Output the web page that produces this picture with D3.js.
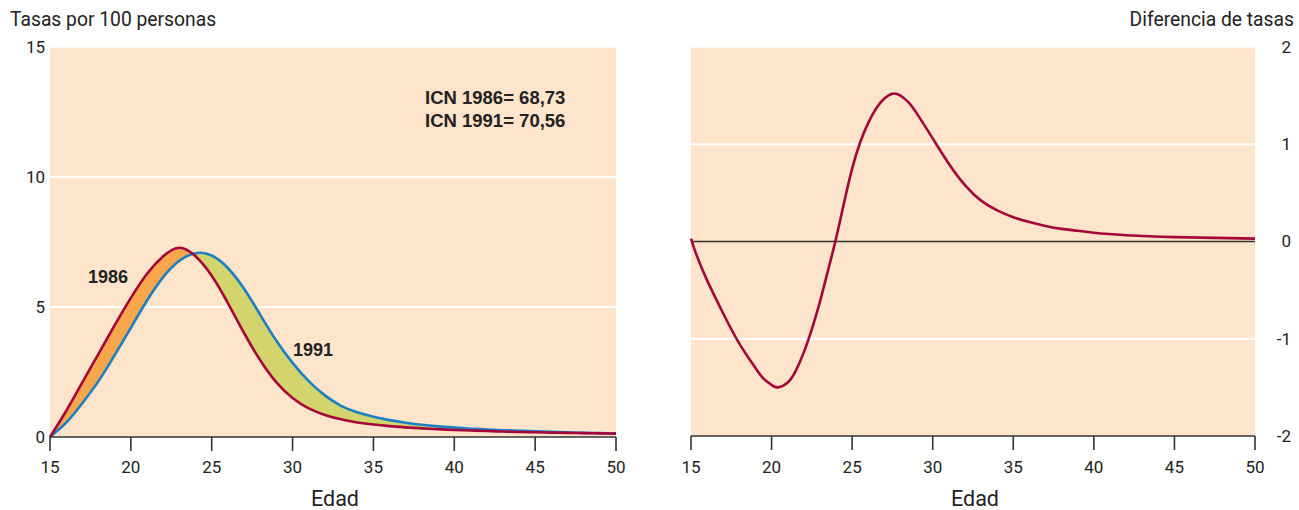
<!DOCTYPE html>
<html>
<head>
<meta charset="utf-8">
<script src="https://cdn.jsdelivr.net/npm/d3@7"></script>
<style>
  body { margin: 0; background: #fff; }
  svg { display: block; font-family: Roboto, 'Liberation Sans', sans-serif; }
</style>
</head>
<body>
<svg id="chart" width="1299" height="510"></svg>
<script>
// ages 15..50
const ages = [15, 16, 17, 18, 19, 20, 21, 22, 23, 24, 25, 26, 27, 28, 29, 30, 31, 32,
  33, 34, 35, 36, 37, 38, 39, 40, 41, 42, 43, 44, 45, 46, 47, 48, 49, 50]
const rate1986 = [0, 1.0, 2.1, 3.2, 4.3, 5.35, 6.28, 6.95, 7.28, 6.95, 6.2, 5.15, 4.0, 2.95,
  2.1, 1.5, 1.1, 0.85, 0.68, 0.56, 0.48, 0.42, 0.37, 0.33, 0.3, 0.27, 0.25, 0.23, 0.21,
  0.19, 0.18, 0.17, 0.16, 0.15, 0.14, 0.13]
const rate1991 = [0, 0.55, 1.3, 2.15, 3.15, 4.2, 5.25, 6.15, 6.78, 7.07, 6.98, 6.5, 5.7, 4.7,
  3.7, 2.85, 2.15, 1.6, 1.2, 0.95, 0.78, 0.65, 0.55, 0.47, 0.41, 0.36, 0.32, 0.29, 0.26,
  0.24, 0.22, 0.2, 0.18, 0.16, 0.15, 0.14]

const diffAges = [15, 15.3, 16, 17, 18, 19, 19.5, 20, 20.4, 21, 21.5, 22, 22.5, 23, 23.5, 24,
  24.5, 25, 25.5, 26, 26.5, 27, 27.5, 28, 28.5, 29, 30, 31, 32, 33, 34, 35, 36, 37, 38, 39,
  40, 42, 45, 50]
const diffValues = [0.03, -0.12, -0.4, -0.74, -1.05, -1.3, -1.41, -1.475, -1.5, -1.45, -1.33,
  -1.14, -0.9, -0.62, -0.3, 0.03, 0.4, 0.75, 1.02, 1.22, 1.37, 1.47, 1.52, 1.5, 1.43, 1.32,
  1.06, 0.8, 0.58, 0.42, 0.32, 0.25, 0.2, 0.16, 0.13, 0.11, 0.09, 0.065, 0.045, 0.03]

const xTicks = [15, 20, 25, 30, 35, 40, 45, 50]
const leftTicks = [0, 5, 10, 15]
const rightTicks = [-2, -1, 0, 1, 2]
const icnLabels = ['ICN 1986= 68,73', 'ICN 1991= 70,56']

const C = {
  bg: '#fde4ca',
  red: '#a50639',
  blue: '#1b80c3',
  orange: '#f8a64b',
  green: '#d4d46c',
  axis: '#333',
  text: '#222'
}

const svg = d3.select('#chart')
const curve = d3.curveNatural

// ---------- left panel ----------
const xL = d3.scaleLinear().domain([15, 50]).range([50, 616])
const yL = d3.scaleLinear().domain([0, 15]).range([437, 47])

const left = svg.append('g')
left.append('rect')
  .attr('x', xL(15)).attr('y', yL(15) - 1)
  .attr('width', xL(50) - xL(15)).attr('height', yL(0) - yL(15) + 1)
  .attr('fill', C.bg)

left.selectAll('.grid').data(leftTicks.filter(d => d > 0)).join('line')
  .attr('x1', xL(15)).attr('x2', xL(50))
  .attr('y1', d => yL(d)).attr('y2', d => yL(d))
  .attr('stroke', '#fff').attr('stroke-width', d => d === 15 ? 2.5 : 2)
  .attr('stroke-opacity', d => d === 15 ? 0.75 : 1)

const rows = ages.map((a, i) => ({ a, r: rate1986[i], b: rate1991[i] }))

const between = d3.area().curve(curve)
  .x(d => xL(d.a)).y0(d => yL(d.b)).y1(d => yL(d.r))

const defs = svg.append('defs')
defs.append('clipPath').attr('id', 'aboveBlue').append('path')
  .attr('d', d3.area().curve(curve).x(d => xL(d.a)).y0(yL(15)).y1(d => yL(d.b))(rows))
defs.append('clipPath').attr('id', 'belowBlue').append('path')
  .attr('d', d3.area().curve(curve).x(d => xL(d.a)).y0(yL(0)).y1(d => yL(d.b))(rows))

left.append('path').attr('d', between(rows)).attr('fill', C.orange)
  .attr('clip-path', 'url(#aboveBlue)')
left.append('path').attr('d', between(rows)).attr('fill', C.green)
  .attr('clip-path', 'url(#belowBlue)')

const lineL = key => d3.line().curve(curve).x(d => xL(d.a)).y(d => yL(d[key]))
left.append('path').attr('d', lineL('b')(rows))
  .attr('fill', 'none').attr('stroke', C.blue).attr('stroke-width', 2.6)
left.append('path').attr('d', lineL('r')(rows))
  .attr('fill', 'none').attr('stroke', C.red).attr('stroke-width', 2.6)

// bottom axis
function xAxis(g, x, y0) {
  g.append('line').attr('x1', x(15)).attr('x2', x(50)).attr('y1', y0).attr('y2', y0)
    .attr('stroke', C.axis).attr('stroke-width', 1.6)
  g.selectAll('.tk').data(xTicks).join('line')
    .attr('x1', d => x(d)).attr('x2', d => x(d)).attr('y1', y0).attr('y2', y0 + 14)
    .attr('stroke', C.axis).attr('stroke-width', 1.6)
  g.selectAll('.tl').data(xTicks).join('text')
    .attr('x', d => x(d)).attr('y', 473).attr('text-anchor', 'middle')
    .attr('font-size', 17).attr('fill', C.text).text(d => d)
  g.append('text').attr('x', (x(15) + x(50)) / 2 + 2).attr('y', 506)
    .attr('text-anchor', 'middle').attr('font-size', 21.5).attr('fill', C.text).text('Edad')
}
xAxis(left, xL, yL(0))

left.selectAll('.yl').data(leftTicks).join('text')
  .attr('x', 45).attr('y', d => yL(d)).attr('dy', '0.35em')
  .attr('text-anchor', 'end').attr('font-size', 17).attr('fill', C.text).text(d => d)

left.append('text').attr('x', 10).attr('y', 26).attr('font-size', 19.3)
  .attr('fill', C.text).text('Tasas por 100 personas')

const bold = "'Liberation Sans', Arial, sans-serif"
left.selectAll('.icn').data(icnLabels).join('text')
  .attr('x', 425).attr('y', (d, i) => 104 + i * 23)
  .attr('font-family', bold).attr('font-weight', 'bold').attr('font-size', 18.5)
  .attr('fill', C.text).text(d => d)

left.append('text').attr('x', 88).attr('y', 283)
  .attr('font-family', bold).attr('font-weight', 'bold').attr('font-size', 18)
  .attr('fill', C.text).text('1986')
left.append('text').attr('x', 293).attr('y', 356)
  .attr('font-family', bold).attr('font-weight', 'bold').attr('font-size', 18)
  .attr('fill', C.text).text('1991')

// ---------- right panel ----------
const xR = d3.scaleLinear().domain([15, 50]).range([691, 1255])
const yR = d3.scaleLinear().domain([-2, 2]).range([436, 47])

const right = svg.append('g')
right.append('rect')
  .attr('x', xR(15)).attr('y', yR(2) - 1)
  .attr('width', xR(50) - xR(15)).attr('height', yR(-2) - yR(2) + 1)
  .attr('fill', C.bg)

right.selectAll('.grid').data([-1, 1, 2]).join('line')
  .attr('x1', xR(15)).attr('x2', xR(50))
  .attr('y1', d => yR(d)).attr('y2', d => yR(d))
  .attr('stroke', '#fff').attr('stroke-width', d => d === 2 ? 2.5 : 2)
  .attr('stroke-opacity', d => d === 2 ? 0.75 : 1)

right.append('line').attr('x1', xR(15)).attr('x2', xR(50))
  .attr('y1', yR(0)).attr('y2', yR(0)).attr('stroke', C.axis).attr('stroke-width', 1.5)

const diffRows = diffAges.map((a, i) => ({ a, v: diffValues[i] }))
right.append('path')
  .attr('d', d3.line().curve(curve).x(d => xR(d.a)).y(d => yR(d.v))(diffRows))
  .attr('fill', 'none').attr('stroke', C.red).attr('stroke-width', 2.6)

xAxis(right, xR, yR(-2))

right.selectAll('.yl').data(rightTicks).join('text')
  .attr('x', 1291).attr('y', d => yR(d)).attr('dy', '0.35em')
  .attr('text-anchor', 'end').attr('font-size', 17).attr('fill', C.text).text(d => d)

right.append('text').attr('x', 1294).attr('y', 26).attr('text-anchor', 'end')
  .attr('font-size', 19.3).attr('fill', C.text).text('Diferencia de tasas')
</script>
</body>
</html>
